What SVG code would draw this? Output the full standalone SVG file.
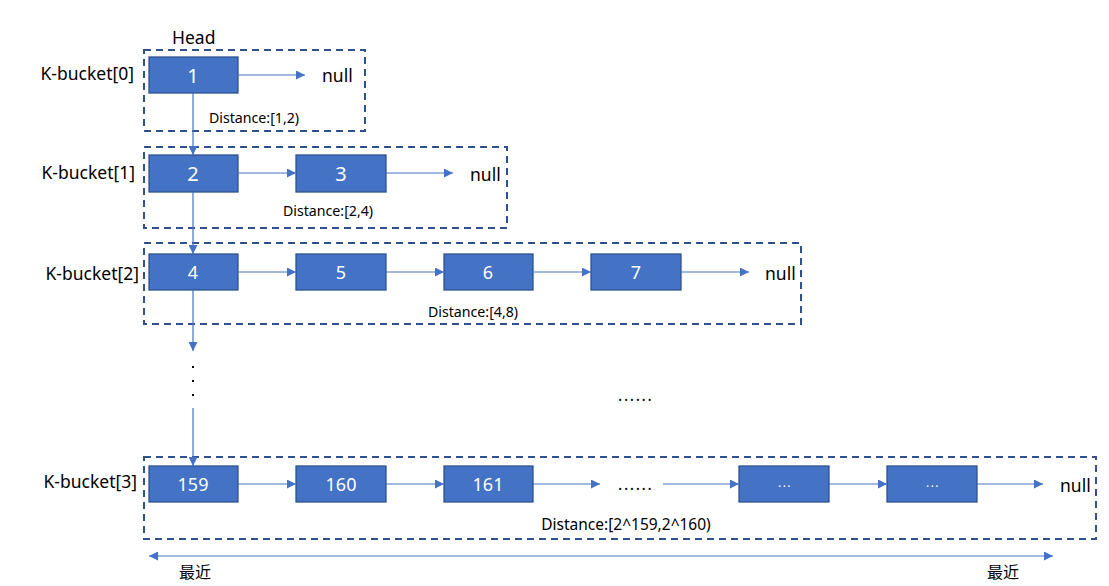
<svg xmlns="http://www.w3.org/2000/svg" width="1109" height="586" viewBox="0 0 1109 586">
<style>
.bucket{fill:none;stroke:#2F528F;stroke-width:2;stroke-dasharray:7,5}
.node rect{fill:#4472C4;stroke:#2F528F;stroke-width:1.3}
.node text{fill:#fff;font-family:"Noto Sans","Noto Sans CJK SC",sans-serif;font-size:18px;text-anchor:middle;dominant-baseline:central}
.node text.big{font-size:20px}
.node text.ell{font-size:12px;letter-spacing:1.5px}
.lbl{fill:#000;font-family:"Noto Sans","Noto Sans CJK SC",sans-serif;font-size:17.5px;dominant-baseline:central}
.dist{fill:#000;font-family:"Noto Sans","Noto Sans CJK SC",sans-serif;font-size:14.2px;text-anchor:middle;dominant-baseline:central}
.conn line{stroke:#4472C4;stroke-width:1.2;fill:none}
</style>
<defs>
<marker id="ah" viewBox="0 0 10 10" refX="10" refY="5" markerWidth="9" markerHeight="9" markerUnits="userSpaceOnUse" orient="auto">
<path d="M0,0 L10,5 L0,10 Z" fill="#4472C4"/>
</marker>
<marker id="ahs" viewBox="0 0 10 10" refX="10" refY="5" markerWidth="9" markerHeight="9" markerUnits="userSpaceOnUse" orient="auto-start-reverse">
<path d="M0,0 L10,5 L0,10 Z" fill="#4472C4"/>
</marker>
</defs>
<rect width="1109" height="586" fill="#fff"/>

<g id="buckets">
<rect class="bucket" x="144" y="50" width="221" height="81"/>
<rect class="bucket" x="144" y="147" width="363" height="81"/>
<rect class="bucket" x="144" y="243" width="657" height="81"/>
<rect class="bucket" x="144" y="457" width="952" height="82"/>
</g>

<g id="labels">
<text class="lbl" x="172" y="37">Head</text>
<text class="lbl" x="134" y="73" text-anchor="end">K-bucket[0]</text>
<text class="lbl" x="135" y="172" text-anchor="end">K-bucket[1]</text>
<text class="lbl" x="139" y="273" text-anchor="end">K-bucket[2]</text>
<text class="lbl" x="137" y="481" text-anchor="end">K-bucket[3]</text>
<text class="lbl" x="322" y="75">null</text>
<text class="lbl" x="470" y="174">null</text>
<text class="lbl" x="765" y="273">null</text>
<text class="lbl" x="1060" y="485">null</text>
<text class="dist" x="254" y="117">Distance:[1,2)</text>
<text class="dist" x="328" y="210">Distance:[2,4)</text>
<text class="dist" x="473" y="311">Distance:[4,8)</text>
<text class="dist" x="626" y="524" style="font-size:15.5px">Distance:[2^159,2^160)</text>
<text class="lbl" x="618" y="395" style="font-size:16px;letter-spacing:1.6px">......</text>
<text class="lbl" x="618" y="484" style="font-size:16px;letter-spacing:1.6px">......</text>
<text class="lbl" x="195" y="572" text-anchor="middle" style="font-size:16px">最近</text>
<text class="lbl" x="1003" y="572" text-anchor="middle" style="font-size:16px">最近</text>
</g>

<g id="n1" class="node"><rect x="149" y="57" width="89" height="36"/><text class="big" x="193" y="75">1</text></g>
<g id="n2" class="node"><rect x="149" y="155" width="89" height="37"/><text class="big" x="193" y="173">2</text></g>
<g id="n3" class="node"><rect x="296" y="155" width="90" height="37"/><text class="big" x="341" y="173">3</text></g>
<g id="n4" class="node"><rect x="149" y="254" width="89" height="36"/><text x="193" y="272">4</text></g>
<g id="n5" class="node"><rect x="296" y="254" width="90" height="36"/><text x="341" y="272">5</text></g>
<g id="n6" class="node"><rect x="444" y="254" width="89" height="36"/><text x="488" y="272">6</text></g>
<g id="n7" class="node"><rect x="591" y="254" width="90" height="36"/><text x="636" y="272">7</text></g>
<g id="n159" class="node"><rect x="149" y="466" width="89" height="36"/><text x="193" y="484">159</text></g>
<g id="n160" class="node"><rect x="296" y="466" width="90" height="36"/><text x="341" y="484">160</text></g>
<g id="n161" class="node"><rect x="444" y="466" width="89" height="36"/><text x="488" y="484">161</text></g>
<g id="nx1" class="node"><rect x="739" y="466" width="90" height="36"/><text class="ell" x="785" y="482">...</text></g>
<g id="nx2" class="node"><rect x="887" y="466" width="90" height="36"/><text class="ell" x="933" y="482">...</text></g>

<g id="connectors" class="conn">
<line x1="238" y1="75" x2="305" y2="75" marker-end="url(#ah)"/>
<line x1="193" y1="93" x2="193" y2="155" marker-end="url(#ah)"/>
<line x1="238" y1="173" x2="296" y2="173" marker-end="url(#ah)"/>
<line x1="386" y1="173" x2="453" y2="173" marker-end="url(#ah)"/>
<line x1="193" y1="192" x2="193" y2="254" marker-end="url(#ah)"/>
<line x1="238" y1="272" x2="296" y2="272" marker-end="url(#ah)"/>
<line x1="386" y1="272" x2="444" y2="272" marker-end="url(#ah)"/>
<line x1="533" y1="272" x2="591" y2="272" marker-end="url(#ah)"/>
<line x1="681" y1="272" x2="749" y2="272" marker-end="url(#ah)"/>
<line x1="193" y1="290" x2="193" y2="351" marker-end="url(#ah)"/>
<line x1="193" y1="408" x2="193" y2="466" marker-end="url(#ah)"/>
<line x1="238" y1="484" x2="296" y2="484" marker-end="url(#ah)"/>
<line x1="386" y1="484" x2="444" y2="484" marker-end="url(#ah)"/>
<line x1="533" y1="484" x2="600" y2="484" marker-end="url(#ah)"/>
<line x1="663" y1="484" x2="739" y2="484" marker-end="url(#ah)"/>
<line x1="829" y1="484" x2="887" y2="484" marker-end="url(#ah)"/>
<line x1="977" y1="484" x2="1043" y2="484" marker-end="url(#ah)"/>
<line x1="149" y1="556" x2="1053" y2="556" marker-start="url(#ahs)" marker-end="url(#ah)"/>
</g>

<g id="vdots" fill="#000">
<rect x="192" y="366" width="2" height="2"/>
<rect x="192" y="380" width="2" height="2"/>
<rect x="192" y="394" width="2" height="2"/>
</g>
</svg>
